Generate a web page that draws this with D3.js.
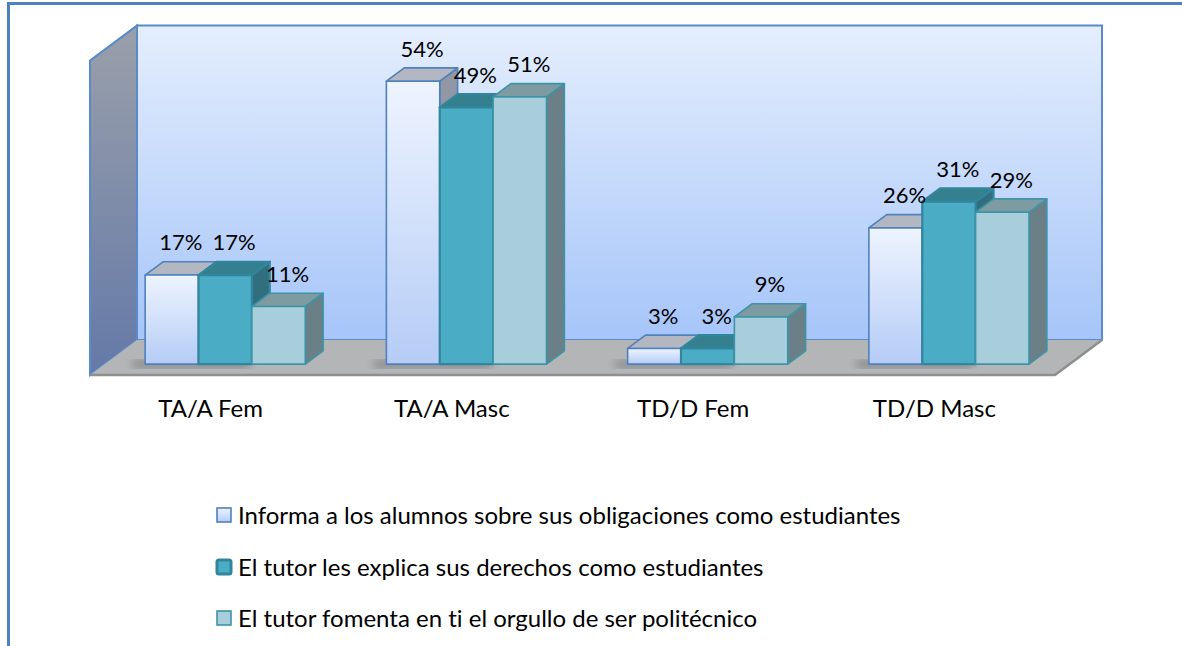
<!DOCTYPE html>
<html>
<head>
<meta charset="utf-8">
<script src="https://cdn.jsdelivr.net/npm/d3@7"></script>
<style>
  body { margin: 0; background: #fff; }
  svg { display: block; font-family: Lato, "Open Sans", sans-serif; font-variant-ligatures: none; }
</style>
</head>
<body>
<svg id="chart" width="1182" height="646"></svg>
<script>
// chart values
const categories = ["TA/A Fem", "TA/A Masc", "TD/D Fem", "TD/D Masc"];
const seriesNames = [
  "Informa a los alumnos sobre sus obligaciones como estudiantes",
  "El tutor les explica sus derechos como estudiantes",
  "El tutor fomenta en ti el orgullo de ser politécnico"
];
const informa = [17, 54, 3, 26];
const explica = [17, 49, 3, 31];
const fomenta = [11, 51, 9, 29];
const seriesValues = [informa, explica, fomenta];

const w = 1182, h = 646;
const svg = d3.select("#chart");

// 3d box: floor front from x 90..1055 at y 375, depth offset
const DX = 47, DY = 35;
const front0 = 0.31, front1 = 0.69;   // bar depth range (fraction)

const x = d3.scaleBand().domain(categories).range([90, 1055]);
const xs = d3.scaleBand().domain(d3.range(3)).range([0, x.bandwidth()]).paddingOuter(0.76);
const y = d3.scaleLinear().domain([0, 60]).range([375, 375 - 314.4]);

const styles = [
  { grad: "g1", stroke: "#4F81BD", top: "#B2B7C2", side: "#9197A4", sw: 1.6 },
  { grad: null, fill: "#4BACC6", stroke: "#31859C", top: "#35808F", side: "#316F7E", sw: 2.2 },
  { grad: null, fill: "#A9CEDB", stroke: "#3D94A9", top: "#7F9BA2", side: "#6A7F86", sw: 1.6 }
];

const defs = svg.append("defs");
function vgrad(id, stops) {
  const g = defs.append("linearGradient").attr("id", id)
    .attr("x1", 0).attr("y1", 0).attr("x2", 0).attr("y2", 1);
  stops.forEach(s => g.append("stop").attr("offset", s[0]).attr("stop-color", s[1]));
}
vgrad("wallGrad", [[0, "#E4EEFD"], [1, "#A6C5F9"]]);
vgrad("sideGrad", [[0, "#9AA0AA"], [1, "#6479A8"]]);
vgrad("g1", [[0, "#EEF4FF"], [1, "#B5CCF6"]]);
defs.append("filter").attr("id", "blur").append("feGaussianBlur").attr("stdDeviation", 4);

// outer border
svg.append("rect").attr("x", 8.5).attr("y", 3.5).attr("width", w + 20).attr("height", h + 20)
  .attr("fill", "none").attr("stroke", "#4F81BD").attr("stroke-width", 3);

const P = (px, v, d) => [px + DX * d, y(v) - DY * d];
const x0 = x.range()[0], x1 = x.range()[1];

// back wall
svg.append("polygon")
  .attr("points", [P(x0, 60, 1), P(x1, 60, 1), P(x1, 0, 1), P(x0, 0, 1)].join(" "))
  .attr("fill", "url(#wallGrad)").attr("stroke", "#5A8ACB").attr("stroke-width", 2);

// side wall
svg.append("polygon")
  .attr("points", [P(x0, 60, 0), P(x0, 60, 1), P(x0, 0, 1), P(x0, 0, 0)].join(" "))
  .attr("fill", "url(#sideGrad)").attr("stroke", "#5A8ACB").attr("stroke-width", 2);

// floor
svg.append("polygon")
  .attr("points", [P(x0, 0, 0), P(x1, 0, 0), P(x1, 0, 1), P(x0, 0, 1)].join(" "))
  .attr("fill", "#B3B5B7");
svg.append("polyline")
  .attr("points", [P(x0, 0, 0), P(x1, 0, 0), P(x1, 0, 1)].join(" "))
  .attr("fill", "none").attr("stroke", "#8E8F91").attr("stroke-width", 2.5);

// shadows on floor
svg.append("g").selectAll("rect").data(categories).join("rect")
  .attr("x", d => x(d) + xs(0) + 2)
  .attr("y", y(0) - DY * front0 - 4)
  .attr("width", xs.bandwidth() * 2.2)
  .attr("height", 8)
  .attr("fill", "#555").attr("opacity", 0.45).attr("filter", "url(#blur)");

// bars
const bars = svg.append("g");
categories.forEach((c, ci) => {
  seriesValues.forEach((vals, si) => {
    const v = vals[ci], st = styles[si];
    const bx = x(c) + xs(si), bw = xs.bandwidth();
    const fl = P(bx, 0, front0), tl = P(bx, v, front0);
    const fr = P(bx + bw, 0, front0), tr = P(bx + bw, v, front0);
    const tlb = P(bx, v, front1), trb = P(bx + bw, v, front1), frb = P(bx + bw, 0, front1);
    const g = bars.append("g").attr("stroke", st.stroke).attr("stroke-width", st.sw)
      .attr("stroke-linejoin", "round");
    g.append("polygon").attr("points", [tr, trb, frb, fr].join(" ")).attr("fill", st.side);
    g.append("polygon").attr("points", [tl, tr, trb, tlb].join(" ")).attr("fill", st.top);
    g.append("polygon").attr("points", [fl, tl, tr, fr].join(" "))
      .attr("fill", st.grad ? "url(#" + st.grad + ")" : st.fill);
    const mid = P(bx + bw / 2, v, 0.5);
    svg.append("text").attr("class", "lbl")
      .attr("x", mid[0]).attr("y", mid[1] - 18)
      .attr("text-anchor", "middle").attr("font-size", 22).attr("fill", "#000")
      .text(v + "%");
  });
});
svg.selectAll("text.lbl").raise();

// category axis labels
svg.append("g").selectAll("text").data(categories).join("text")
  .attr("x", d => x(d) + x.bandwidth() / 2)
  .attr("y", 417)
  .attr("text-anchor", "middle").attr("font-size", 24).attr("fill", "#000")
  .text(d => d);

// legend
const lg = svg.append("g").attr("transform", "translate(216,0)");
const ly = [524, 576, 627];
seriesNames.forEach((n, i) => {
  const st = styles[i];
  lg.append("rect").attr("x", 1).attr("y", ly[i] - 16).attr("width", 14).attr("height", 14)
    .attr("rx", i === 1 ? 2 : 0)
    .attr("fill", st.grad ? "url(#" + st.grad + ")" : st.fill)
    .attr("stroke", st.stroke).attr("stroke-width", i === 1 ? 3 : 1.6);
  lg.append("text").attr("x", 22).attr("y", ly[i])
    .attr("font-size", 24).attr("fill", "#000").text(n);
});
</script>
</body>
</html>
